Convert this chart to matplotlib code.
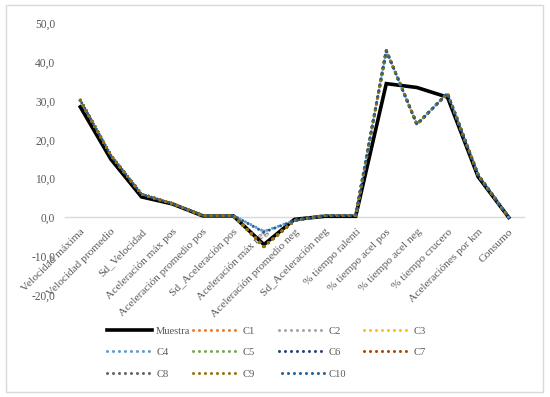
import matplotlib
matplotlib.use("Agg")
import matplotlib.pyplot as plt
from matplotlib.patches import Rectangle

categories = ["Velocidad máxima", "Velocidad promedio", "Sd_Velocidad", "Aceleración máx pos",
              "Aceleración promedio pos", "Sd_Aceleración pos", "Aceleración máx neg",
              "Aceleración promedio neg", "Sd_Aceleración neg", "% tiempo ralentí",
              "% tiempo acel pos", "% tiempo acel neg", "% tiempo crucero",
              "Aceleraciónes por km", "Consumo"]

muestra = [28.5, 15.0, 5.3, 3.5, 0.4, 0.4, -7.0, -0.5, 0.3, 0.3, 34.5, 33.5, 31.0, 10.5, 0.0]

c1 = [30.2, 16.0, 6.0, 3.6, 0.5, 0.5, -7.5, -0.8, 0.5, 0.5, 43.0, 24.0, 32.0, 11.0, 0.0]
c2 = [30.2, 16.0, 6.0, 3.6, 0.5, 0.5, -7.5, -0.8, 0.5, 0.5, 43.0, 24.0, 32.0, 11.0, 0.0]
c3 = [30.2, 16.0, 6.0, 3.6, 0.5, 0.5, -7.5, -0.8, 0.5, 0.5, 43.0, 24.0, 32.0, 11.0, 0.0]
c4 = [30.2, 16.0, 6.0, 3.6, 0.5, 0.5, -3.6, -0.8, 0.5, 0.5, 43.0, 24.0, 32.0, 11.0, 0.0]
c5 = [30.2, 16.0, 6.0, 3.6, 0.5, 0.5, -7.5, -0.8, 0.5, 0.5, 43.0, 24.0, 32.0, 11.0, 0.0]
c6 = [30.2, 16.0, 6.0, 3.6, 0.5, 0.5, -7.5, -0.8, 0.5, 0.5, 43.0, 24.0, 32.0, 11.0, 0.0]
c7 = [30.2, 16.0, 6.0, 3.6, 0.5, 0.5, -7.5, -0.8, 0.5, 0.5, 43.0, 24.0, 32.0, 11.0, 0.0]
c8 = [30.2, 16.0, 6.0, 3.6, 0.5, 0.5, -7.5, -0.8, 0.5, 0.5, 43.0, 24.0, 32.0, 11.0, 0.0]
c9 = [30.2, 16.0, 6.0, 3.6, 0.5, 0.5, -7.6, -0.8, 0.5, 0.5, 43.0, 24.0, 32.0, 11.0, 0.0]
c10 = [30.2, 16.0, 6.0, 3.6, 0.5, 0.5, -3.8, -0.8, 0.5, 0.5, 43.0, 24.0, 32.0, 11.0, 0.0]

cluster_names = ["C1", "C2", "C3", "C4", "C5", "C6", "C7", "C8", "C9", "C10"]
cluster_values = [c1, c2, c3, c4, c5, c6, c7, c8, c9, c10]
cluster_colors = ["#ED7D31", "#A5A5A5", "#FFC000", "#5B9BD5", "#70AD47",
                  "#264478", "#9E480E", "#636363", "#997300", "#255E91"]

yticks = [-20, -10, 0, 10, 20, 30, 40, 50]
ytick_labels = ["-20,0", "-10,0", "0,0", "10,0", "20,0", "30,0", "40,0", "50,0"]

plt.rcParams['font.family'] = ['Liberation Serif', 'DejaVu Serif']
text_color = "#595959"

fig = plt.figure(figsize=(5.5, 3.97), dpi=100)
ax = fig.add_axes([65/550, 1 - 295/397, (524 - 65)/550, (295 - 23.5)/397])

# spines first (moving a spine resets the ticks)
for s in ["top", "right", "left"]:
    ax.spines[s].set_visible(False)
ax.spines["bottom"].set_position(("data", 0))
ax.spines["bottom"].set_color("#D9D9D9")
ax.spines["bottom"].set_linewidth(1.0)
ax.spines["bottom"].set_zorder(1)

x = list(range(len(categories)))

series_handles = {}
h, = ax.plot(x, muestra, color="black", lw=2.6, solid_joinstyle="miter", zorder=3)
series_handles["Muestra"] = h
for i, (name, vals, col) in enumerate(zip(cluster_names, cluster_values, cluster_colors)):
    off = 0.98 if name == "C10" else 0.0
    ln, = ax.plot(x, vals, color=col, lw=2.2, linestyle=(off, (0.01, 1.95)),
                  dash_capstyle="round", zorder=4 + i)
    series_handles[name] = ln

ax.set_xlim(-0.5, len(categories) - 0.5)
ax.set_ylim(-20, 50)
ax.tick_params(axis="both", length=0)
ax.tick_params(axis="x", pad=7, labelsize=8.2, labelcolor=text_color)
ax.tick_params(axis="y", pad=7, labelsize=8.3, labelcolor=text_color)
ax.set_yticks(yticks)
ax.set_yticklabels(ytick_labels)
ax.set_xticks(x)
ax.set_xticklabels(categories)

for lab in ax.get_xticklabels():
    lab.set_rotation(45)
    lab.set_ha("right")
    lab.set_va("top")
    lab.set_rotation_mode("anchor")

# legend laid out as 4 equally spaced columns, read row by row
legend_columns = [["Muestra", "C4", "C8"], ["C1", "C5", "C9"], ["C2", "C6", "C10"], ["C3", "C7"]]
col_x = [104, 190, 276, 361]
for names, cx in zip(legend_columns, col_x):
    leg = fig.legend([series_handles[n] for n in names], names, loc="upper left",
                     bbox_to_anchor=(cx/550, 1 - 323/397), borderaxespad=0,
                     ncol=1, frameon=False, fontsize=7.6, handlelength=4.2,
                     labelspacing=1.15, handletextpad=0.45, borderpad=0.3)
    for t in leg.get_texts():
        t.set_color(text_color)

fig.patches.append(Rectangle((6/550, 1 - 392/397), (543 - 6)/550, (392 - 5)/397,
                             transform=fig.transFigure, fill=False,
                             edgecolor="#D9D9D9", lw=1.0))

fig.savefig("out.png", dpi=100)
